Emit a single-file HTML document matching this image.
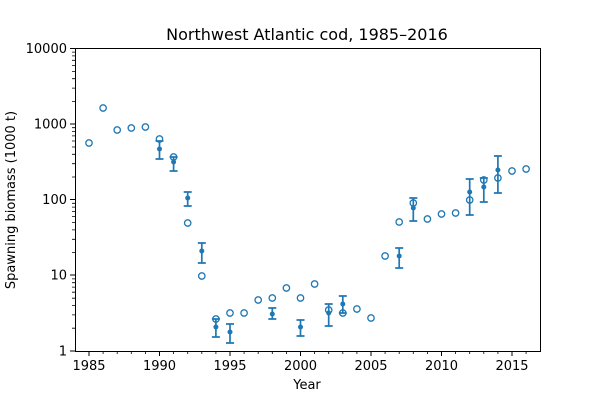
<!DOCTYPE html>
<html><head><meta charset="utf-8"><style>body{margin:0;background:#fff}svg{display:block;font-family:"DejaVu Sans","Liberation Sans",sans-serif}</style></head>
<body>
<svg width="600" height="400" viewBox="0 0 600 400" xmlns="http://www.w3.org/2000/svg">
<text x="307" y="40" font-size="16" text-anchor="middle">Northwest Atlantic cod, 1985–2016</text>
<rect x="75.5" y="48.5" width="465" height="303" fill="none" stroke="#000" stroke-width="1"/>
<g stroke="#000" stroke-width="1">
<line x1="89" y1="351" x2="89" y2="356"/><line x1="159.5" y1="351" x2="159.5" y2="356"/><line x1="230" y1="351" x2="230" y2="356"/><line x1="300.5" y1="351" x2="300.5" y2="356"/><line x1="371" y1="351" x2="371" y2="356"/><line x1="441.5" y1="351" x2="441.5" y2="356"/><line x1="512" y1="351" x2="512" y2="356"/>
<line x1="70" y1="48.5" x2="75" y2="48.5"/><line x1="70" y1="124" x2="75" y2="124"/><line x1="70" y1="199.5" x2="75" y2="199.5"/><line x1="70" y1="275" x2="75" y2="275"/><line x1="70" y1="351" x2="75" y2="351"/>
</g>
<path stroke="#000" stroke-width="0.8" fill="none" d="M103.1 351v3M117.2 351v3M131.3 351v3M145.4 351v3M173.6 351v3M187.7 351v3M201.8 351v3M215.9 351v3M244.1 351v3M258.2 351v3M272.3 351v3M286.4 351v3M314.6 351v3M328.7 351v3M342.8 351v3M356.9 351v3M385.1 351v3M399.2 351v3M413.3 351v3M427.4 351v3M455.6 351v3M469.7 351v3M483.8 351v3M497.9 351v3M526.1 351v3
M72 328.2h3M72 314.9h3M72 305.5h3M72 298.2h3M72 292.2h3M72 287.1h3M72 282.7h3M72 278.9h3
M72 252.6h3M72 239.3h3M72 229.9h3M72 222.6h3M72 216.6h3M72 211.5h3M72 207.1h3M72 203.3h3
M72 177h3M72 163.7h3M72 154.3h3M72 147h3M72 141h3M72 135.9h3M72 131.5h3M72 127.7h3
M72 101.4h3M72 88.1h3M72 78.7h3M72 71.4h3M72 65.4h3M72 60.3h3M72 55.9h3M72 52.1h3"/>
<g font-size="13" text-anchor="middle">
<text x="89" y="370">1985</text><text x="159.5" y="370">1990</text><text x="230" y="370">1995</text><text x="300.5" y="370">2000</text><text x="371" y="370">2005</text><text x="441.5" y="370">2010</text><text x="512" y="370">2015</text>
<text x="307" y="389">Year</text>
</g>
<g font-size="13" text-anchor="end">
<text x="67" y="53">10000</text><text x="67" y="128.5">1000</text><text x="67" y="204">100</text><text x="67" y="279.5">10</text><text x="67" y="355.5">1</text>
</g>
<text transform="translate(15,200) rotate(-90)" font-size="13" text-anchor="middle">Spawning biomass (1000 t)</text>
<g fill="none" stroke="#1f77b4" stroke-width="1.3">
<circle cx="89" cy="143" r="3.2"/><circle cx="103.1" cy="108" r="3.2"/><circle cx="117.2" cy="130" r="3.2"/><circle cx="131.3" cy="128" r="3.2"/><circle cx="145.4" cy="127" r="3.2"/><circle cx="159.5" cy="139" r="3.2"/><circle cx="173.6" cy="157" r="3.2"/><circle cx="187.7" cy="223" r="3.2"/><circle cx="201.8" cy="276" r="3.2"/><circle cx="215.9" cy="319" r="3.2"/><circle cx="230" cy="313" r="3.2"/><circle cx="244.1" cy="313" r="3.2"/><circle cx="258.2" cy="300" r="3.2"/><circle cx="272.3" cy="298" r="3.2"/><circle cx="286.4" cy="288" r="3.2"/><circle cx="300.5" cy="298" r="3.2"/><circle cx="314.6" cy="284" r="3.2"/><circle cx="328.7" cy="310" r="3.2"/><circle cx="342.8" cy="313" r="3.2"/><circle cx="356.9" cy="309" r="3.2"/><circle cx="371" cy="318" r="3.2"/><circle cx="385.1" cy="256" r="3.2"/><circle cx="399.2" cy="222" r="3.2"/><circle cx="413.3" cy="203" r="3.2"/><circle cx="427.4" cy="219" r="3.2"/><circle cx="441.5" cy="214" r="3.2"/><circle cx="455.6" cy="213" r="3.2"/><circle cx="469.7" cy="200" r="3.2"/><circle cx="483.8" cy="180" r="3.2"/><circle cx="497.9" cy="178" r="3.2"/><circle cx="512" cy="171" r="3.2"/><circle cx="526.1" cy="169" r="3.2"/>
</g>
<path fill="none" stroke="#1f77b4" stroke-width="1.7" d="
M159.5 141V159M155.5 141h8M155.5 159h8
M173.6 157V171M169.6 157h8M169.6 171h8
M187.7 192V206M183.7 192h8M183.7 206h8
M201.8 243V263M197.8 243h8M197.8 263h8
M215.9 319V337M211.9 319h8M211.9 337h8
M230 324V343M226 324h8M226 343h8
M272.3 308V319M268.3 308h8M268.3 319h8
M300.5 320V336M296.5 320h8M296.5 336h8
M328.7 304V326M324.7 304h8M324.7 326h8
M342.8 296V313M338.8 296h8M338.8 313h8
M399.2 248V268M395.2 248h8M395.2 268h8
M413.3 198V221M409.3 198h8M409.3 221h8
M469.7 179V215M465.7 179h8M465.7 215h8
M483.8 178V202M479.8 178h8M479.8 202h8
M497.9 156V193M493.9 156h8M493.9 193h8"/>
<g fill="#1f77b4">
<circle cx="159.5" cy="149" r="2.5"/><circle cx="173.6" cy="162" r="2.5"/><circle cx="187.7" cy="198" r="2.5"/><circle cx="201.8" cy="251" r="2.5"/><circle cx="215.9" cy="327" r="2.5"/><circle cx="230" cy="332" r="2.5"/><circle cx="272.3" cy="314" r="2.5"/><circle cx="300.5" cy="327" r="2.5"/><circle cx="328.7" cy="313" r="2.5"/><circle cx="342.8" cy="304" r="2.5"/><circle cx="399.2" cy="256" r="2.5"/><circle cx="413.3" cy="208" r="2.5"/><circle cx="469.7" cy="192" r="2.5"/><circle cx="483.8" cy="187" r="2.5"/><circle cx="497.9" cy="170" r="2.5"/>
</g>
</svg>
</body></html>
